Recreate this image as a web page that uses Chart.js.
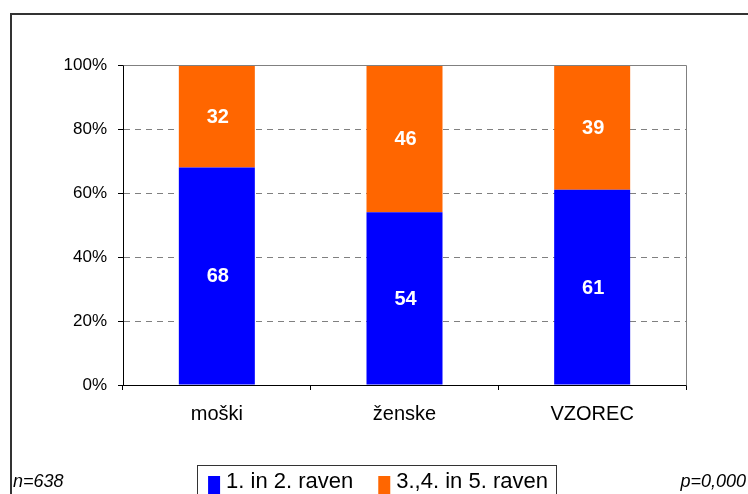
<!DOCTYPE html>
<html><head><meta charset="utf-8">
<script src="https://cdn.jsdelivr.net/npm/chart.js@4/dist/chart.umd.min.js"></script>
<style>html,body{margin:0;padding:0;background:#fff;}#wrap{width:748px;height:494px;position:relative;}</style>
</head><body><div id="wrap"><canvas id="c" width="748" height="494"></canvas></div>
<script>
const categories = ['moški', 'ženske', 'VZOREC'];
const seriesNames = ['1. in 2. raven', '3.,4. in 5. raven'];
const level12 = [68, 54, 61];
const level345 = [32, 46, 39];
const yTicks = [0, 20, 40, 60, 80, 100];
const footLeft = 'n=638';
const footRight = 'p=0,000';
const seriesColors = ['#0000FF', '#FF6600'];

const FONT = '"Liberation Sans", Arial, sans-serif';

const decorPlugin = {
  id: 'decor',
  beforeDraw(chart) {
    const ctx = chart.ctx;
    ctx.save();
    ctx.strokeStyle = '#333';
    ctx.lineWidth = 2;
    ctx.beginPath();
    ctx.moveTo(11, 494);
    ctx.lineTo(11, 14);
    ctx.lineTo(748, 14);
    ctx.stroke();
    ctx.restore();
  },
  afterDatasetsDraw(chart) {
    const ctx = chart.ctx;
    const a = chart.chartArea;
    ctx.save();
    ctx.strokeStyle = '#808080';
    ctx.lineWidth = 1;
    ctx.beginPath();
    ctx.moveTo(Math.round(a.left) + 0.5, Math.round(a.top) + 0.5);
    ctx.lineTo(Math.round(a.right) + 0.5, Math.round(a.top) + 0.5);
    ctx.lineTo(Math.round(a.right) + 0.5, Math.round(a.bottom) + 0.5);
    ctx.stroke();
    ctx.fillStyle = '#fff';
    ctx.font = 'bold 20px ' + FONT;
    ctx.textAlign = 'center';
    ctx.textBaseline = 'middle';
    chart.data.datasets.forEach((ds, di) => {
      const meta = chart.getDatasetMeta(di);
      meta.data.forEach((el, i) => {
        const y = (el.y + el.base) / 2;
        ctx.fillText(String(ds.data[i]), el.x + 1, y + 1);
      });
    });
    ctx.restore();
  },
  afterDraw(chart) {
    const ctx = chart.ctx;
    ctx.save();
    ctx.fillStyle = '#000';
    ctx.font = 'italic 18px ' + FONT;
    ctx.textBaseline = 'alphabetic';
    ctx.textAlign = 'left';
    ctx.fillText(footLeft, 13, 487);
    ctx.textAlign = 'right';
    ctx.fillText(footRight, 746, 487);
    ctx.font = '22px ' + FONT;
    const mW = 12, gapT = 6, gapI = 25;
    const widths = chart.data.datasets.map(d => ctx.measureText(d.label).width);
    let total = 0;
    widths.forEach((w, i) => { total += mW + gapT + w + (i < widths.length - 1 ? gapI : 0); });
    let x = 378 - total / 2;
    ctx.strokeStyle = '#333';
    ctx.lineWidth = 1;
    ctx.strokeRect(197.5, 465.5, 359, 40);
    ctx.textAlign = 'left';
    chart.data.datasets.forEach((d, i) => {
      ctx.fillStyle = d.backgroundColor;
      ctx.fillRect(x, 476, mW, 19);
      x += mW + gapT;
      ctx.fillStyle = '#000';
      ctx.fillText(d.label, x, 488);
      x += widths[i] + gapI;
    });
    ctx.restore();
  }
};

new Chart(document.getElementById('c'), {
  type: 'bar',
  data: {
    labels: categories,
    datasets: [
      { label: seriesNames[0], data: level12, backgroundColor: seriesColors[0], borderWidth: 0 },
      { label: seriesNames[1], data: level345, backgroundColor: seriesColors[1], borderWidth: 0 }
    ]
  },
  options: {
    responsive: false,
    animation: false,
    devicePixelRatio: 1,
    layout: { padding: { left: 0, right: 62, top: 65, bottom: 69 } },
    datasets: { bar: { categoryPercentage: 1, barPercentage: 0.405 } },
    plugins: { legend: { display: false }, tooltip: { enabled: false } },
    scales: {
      x: {
        stacked: true,
        grid: { display: true, drawOnChartArea: false, drawTicks: true, tickLength: 5, tickColor: '#000', offset: true },
        border: { display: true, color: '#000', width: 1 },
        ticks: { color: '#000', font: { family: FONT, size: 20 }, padding: 12, maxRotation: 0 },
        afterFit(s) { s.height = 40; }
      },
      y: {
        stacked: true,
        min: 0, max: 100,
        afterBuildTicks(s) { s.ticks = yTicks.map(v => ({ value: v })); },
        grid: { color: '#808080', lineWidth: 1, drawTicks: true, tickLength: 5, tickColor: '#000' },
        border: { display: true, color: '#000', width: 1, dash: [6, 5] },
        ticks: { color: '#000', font: { family: FONT, size: 17 }, padding: 11, callback: v => v + '%' },
        afterFit(s) { s.width = 123; }
      }
    }
  },
  plugins: [decorPlugin]
});
</script>
</body></html>
